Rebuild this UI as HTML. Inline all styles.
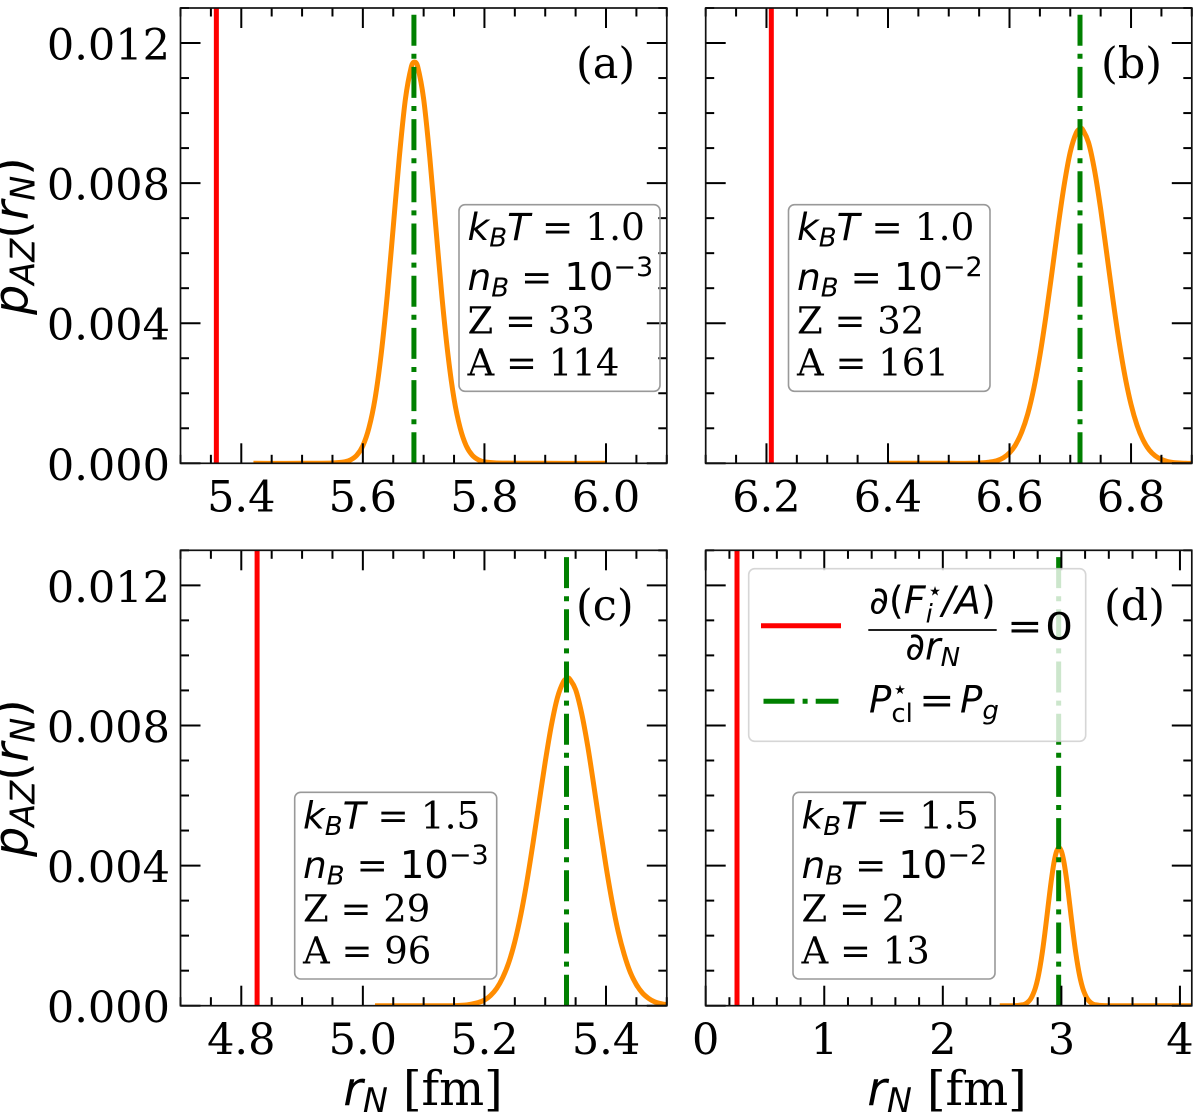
<!DOCTYPE html>
<html lang="en">
<head>
<meta charset="utf-8">
<title>Probability distributions of cluster radius</title>
<style>
html,body{margin:0;padding:0;background:#fff;}
svg{display:block;}
text{fill:#000;}
.s{font-family:"DejaVu Serif","Liberation Serif",serif;}
.m{font-family:"DejaVu Sans","Liberation Sans",sans-serif;font-style:italic;}
.u{font-family:"DejaVu Sans","Liberation Sans",sans-serif;font-style:normal;}
.box{fill:none;stroke:#999;stroke-width:1.6;}
</style>
</head>
<body>
<svg id="fig" xmlns="http://www.w3.org/2000/svg" width="1200" height="1119" viewBox="0 0 1200 1119">
<rect width="1200" height="1119" fill="#fff"/>
<g id="panels"></g>

<!-- axis titles -->
<g transform="translate(27.5,236) rotate(-90)">
<text class="m" font-size="47.5" text-anchor="middle">p<tspan font-size="33.5" dy="7">AZ</tspan><tspan class="u" dy="-7">(</tspan>r<tspan font-size="33.5" dy="7">N</tspan><tspan class="u" dy="-7">)</tspan></text>
</g>
<g transform="translate(27.5,778) rotate(-90)">
<text class="m" font-size="47.5" text-anchor="middle">p<tspan font-size="33.5" dy="7">AZ</tspan><tspan class="u" dy="-7">(</tspan>r<tspan font-size="33.5" dy="7">N</tspan><tspan class="u" dy="-7">)</tspan></text>
</g>
<text class="s" font-size="47.5" x="423" y="1105" text-anchor="middle"><tspan class="m">r</tspan><tspan class="m" font-size="33.5" dy="7">N</tspan><tspan dy="-7"> [fm]</tspan></text>
<text class="s" font-size="47.5" x="947" y="1105" text-anchor="middle"><tspan class="m">r</tspan><tspan class="m" font-size="33.5" dy="7">N</tspan><tspan dy="-7"> [fm]</tspan></text>

<!-- panel letters -->
<text class="s" font-size="43" x="576" y="78">(a)</text>
<text class="s" font-size="43" x="1101" y="78">(b)</text>
<text class="s" font-size="43" x="576" y="620">(c)</text>
<text class="s" font-size="43" x="1104" y="620">(d)</text>

<!-- info boxes -->
<g>
<rect class="box" x="459" y="204.7" width="201" height="186.6" rx="6"/>
<text class="s" font-size="37.5" x="467.5" y="240"><tspan class="m">k</tspan><tspan class="m" font-size="26" dy="6.5">B</tspan><tspan class="m" dy="-6.5">T</tspan> = 1.0</text>
<text class="s" font-size="37.5" x="467.5" y="290"><tspan class="m">n</tspan><tspan class="m" font-size="26" dy="6.5">B</tspan><tspan dy="-6.5"> = </tspan><tspan class="u" font-size="38.5">10</tspan><tspan class="u" font-size="27" dy="-14">−3</tspan></text>
<text class="s" font-size="37" x="467.5" y="333.5">Z = 33</text>
<text class="s" font-size="37" x="467.5" y="375.7">A = 114</text>
</g>
<g>
<rect class="box" x="788.5" y="204.7" width="201.5" height="186.6" rx="6"/>
<text class="s" font-size="37.5" x="797" y="240"><tspan class="m">k</tspan><tspan class="m" font-size="26" dy="6.5">B</tspan><tspan class="m" dy="-6.5">T</tspan> = 1.0</text>
<text class="s" font-size="37.5" x="797" y="290"><tspan class="m">n</tspan><tspan class="m" font-size="26" dy="6.5">B</tspan><tspan dy="-6.5"> = </tspan><tspan class="u" font-size="38.5">10</tspan><tspan class="u" font-size="27" dy="-14">−2</tspan></text>
<text class="s" font-size="37" x="797" y="333.5">Z = 32</text>
<text class="s" font-size="37" x="797" y="375.7">A = 161</text>
</g>
<g>
<rect class="box" x="294.7" y="792.3" width="202" height="186.7" rx="6"/>
<text class="s" font-size="37.5" x="303" y="828.5"><tspan class="m">k</tspan><tspan class="m" font-size="26" dy="6.5">B</tspan><tspan class="m" dy="-6.5">T</tspan> = 1.5</text>
<text class="s" font-size="37.5" x="303" y="878"><tspan class="m">n</tspan><tspan class="m" font-size="26" dy="6.5">B</tspan><tspan dy="-6.5"> = </tspan><tspan class="u" font-size="38.5">10</tspan><tspan class="u" font-size="27" dy="-14">−3</tspan></text>
<text class="s" font-size="37" x="303" y="921.5">Z = 29</text>
<text class="s" font-size="37" x="303" y="963.3">A = 96</text>
</g>
<g>
<rect class="box" x="793" y="792.3" width="202" height="186.7" rx="6"/>
<text class="s" font-size="37.5" x="801.5" y="828.5"><tspan class="m">k</tspan><tspan class="m" font-size="26" dy="6.5">B</tspan><tspan class="m" dy="-6.5">T</tspan> = 1.5</text>
<text class="s" font-size="37.5" x="801.5" y="878"><tspan class="m">n</tspan><tspan class="m" font-size="26" dy="6.5">B</tspan><tspan dy="-6.5"> = </tspan><tspan class="u" font-size="38.5">10</tspan><tspan class="u" font-size="27" dy="-14">−2</tspan></text>
<text class="s" font-size="37" x="801.5" y="921.5">Z = 2</text>
<text class="s" font-size="37" x="801.5" y="963.3">A = 13</text>
</g>

<!-- legend -->
<g>
<rect x="748.7" y="568.7" width="337" height="172.6" rx="6" fill="#fff" fill-opacity="0.8" stroke="#ccc" stroke-opacity="0.8" stroke-width="1.6"/>
<line x1="761" x2="841" y1="625.7" y2="625.7" stroke="#ff0000" stroke-width="5"/>
<line x1="763.5" x2="838.5" y1="701.3" y2="701.3" stroke="#008000" stroke-width="5" stroke-dasharray="31 8.1 5 8.1"/>
<g>
<text class="m" font-size="38" x="932.5" y="613.3" text-anchor="middle"><tspan class="u">∂(</tspan>F<tspan font-size="26" dy="9">i</tspan><tspan class="u" font-size="26" dy="-23" dx="-6">⋆</tspan><tspan dy="14" dx="-1">/A</tspan><tspan class="u">)</tspan></text>
<line x1="868.3" x2="996.7" y1="630" y2="630" stroke="#000" stroke-width="1.7"/>
<text class="m" font-size="38" x="932.7" y="659.3" text-anchor="middle"><tspan class="u">∂</tspan>r<tspan font-size="26" dy="6.5">N</tspan></text>
<text class="u" font-size="37" transform="translate(1007,639) scale(1.15,1)">=</text>
<text class="u" font-size="37" transform="translate(1045,639.3) scale(1.2,1)">0</text>
</g>
<g>
<text class="m" font-size="37" x="869" y="712.7">P<tspan class="u" font-size="26" dy="9.5">cl</tspan><tspan class="u" font-size="26" dy="-24" dx="-21">⋆</tspan></text>
<text class="u" font-size="37" transform="translate(919,713) scale(1.15,1)">=</text>
<text class="m" font-size="37" x="960" y="712.7">P<tspan font-size="26" dy="6.5">g</tspan></text>
</g>
</g>
</svg>
<script>
// Panel (a) data
const rA = [5.42,5.50,5.55,5.57,5.58,5.59,5.60,5.61,5.62,5.63,5.64,5.65,5.66,5.67,5.68,5.685,5.69,5.70,5.71,5.72,5.73,5.74,5.75,5.76,5.77,5.78,5.79,5.80,5.82,5.90,6.00];
const pA = [0,0,0.00001,0.00004,0.0001,0.00023,0.0005,0.00101,0.00184,0.0031,0.00477,0.00675,0.00875,0.0104,0.01134,0.01146,0.01134,0.0104,0.00875,0.00675,0.00477,0.0031,0.00184,0.00101,0.0005,0.00023,0.0001,0.00004,0.00001,0,0];
const xTickLabelsA = ["5.4","5.6","5.8","6.0"];
const redLineA = [5.359];
const greenLineA = [5.684];
// Panel (b) data
const rB = [6.40,6.50,6.54,6.55,6.56,6.57,6.58,6.59,6.60,6.61,6.62,6.63,6.64,6.65,6.66,6.67,6.68,6.69,6.70,6.71,6.717,6.72,6.73,6.74,6.75,6.76,6.77,6.78,6.79,6.80,6.81,6.82,6.83,6.84,6.85,6.86,6.87,6.88,6.89,6.90];
const pB = [0,0,0,0.00001,0.00002,0.00004,0.00008,0.00016,0.0003,0.00053,0.00089,0.00141,0.00214,0.00308,0.00421,0.00547,0.00677,0.00795,0.00889,0.00944,0.00956,0.00954,0.00916,0.00836,0.00726,0.00599,0.0047,0.00351,0.00249,0.00168,0.00108,0.00066,0.00038,0.00021,0.00011,0.00005,0.00002,0.00001,0,0];
const xTickLabelsB = ["6.2","6.4","6.6","6.8"];
const redLineB = [6.208];
const greenLineB = [6.716];
// Panel (c) data
const rC = [5.02,5.10,5.15,5.16,5.17,5.18,5.19,5.20,5.21,5.22,5.23,5.24,5.25,5.26,5.27,5.28,5.29,5.30,5.31,5.32,5.33,5.337,5.34,5.35,5.36,5.37,5.38,5.39,5.40,5.41,5.42,5.43,5.44,5.45,5.46,5.47,5.48,5.49,5.50];
const pC = [0,0,0,0.00001,0.00002,0.00005,0.00009,0.00016,0.00029,0.00049,0.0008,0.00123,0.00183,0.00261,0.00356,0.00465,0.00581,0.00696,0.00799,0.00879,0.00925,0.00935,0.00933,0.00902,0.00834,0.0074,0.00628,0.00511,0.00398,0.00297,0.00212,0.00146,0.00095,0.0006,0.00036,0.00021,0.00011,0.00006,0.00003];
const xTickLabelsC = ["4.8","5.0","5.2","5.4"];
const redLineC = [4.826];
const greenLineC = [5.335];
// Panel (d) data
const rD = [2.48,2.60,2.64,2.66,2.68,2.70,2.72,2.74,2.76,2.78,2.80,2.82,2.84,2.86,2.88,2.90,2.92,2.94,2.96,2.98,3.00,3.02,3.04,3.06,3.08,3.10,3.12,3.14,3.16,3.18,3.20,3.22,3.24,3.26,3.28,3.30,3.32,3.40,3.70,4.10];
const pD = [0,0,0.00001,0.00002,0.00003,0.00006,0.00011,0.00019,0.00032,0.0005,0.00076,0.00111,0.00154,0.00205,0.00261,0.00318,0.0037,0.00413,0.00441,0.00451,0.00441,0.00413,0.0037,0.00318,0.00261,0.00205,0.00154,0.00111,0.00076,0.0005,0.00032,0.00019,0.00011,0.00006,0.00003,0.00002,0.00001,0,0,0];
const xTickLabelsD = ["0","1","2","3","4"];
const redLineD = [0.264];
const greenLineD = [2.977];
// Shared y axis
const yTickLabels = ["0.000","0.004","0.008","0.012"];

const NS = 'http://www.w3.org/2000/svg';
const root = document.getElementById('panels');
function mk(parent, tag, attrs, txt) {
  const el = document.createElementNS(NS, tag);
  for (const k in attrs) el.setAttribute(k, attrs[k]);
  if (txt !== undefined) el.textContent = txt;
  parent.appendChild(el);
  return el;
}
const Y_MAX = 0.013;
const Y_MINOR = 0.001;

// Smooth path through the data points (Catmull-Rom with non-uniform tangents)
function smoothPath(px, py) {
  const n = px.length;
  const m = [];
  for (let i = 0; i < n; i++) {
    const a = Math.max(i - 1, 0), b = Math.min(i + 1, n - 1);
    m.push((py[b] - py[a]) / (px[b] - px[a]));
  }
  let d = 'M' + px[0].toFixed(2) + ' ' + py[0].toFixed(2);
  for (let i = 0; i < n - 1; i++) {
    const h = (px[i + 1] - px[i]) / 3;
    d += 'C' + (px[i] + h).toFixed(2) + ' ' + (py[i] + m[i] * h).toFixed(2) + ' ' +
         (px[i + 1] - h).toFixed(2) + ' ' + (py[i + 1] - m[i + 1] * h).toFixed(2) + ' ' +
         px[i + 1].toFixed(2) + ' ' + py[i + 1].toFixed(2);
  }
  return d;
}

function drawPanel(id, box, xMin, xMax, xMinorStep, xLabels, curveX, curveY, redX, greenX, showY) {
  const L = box[0], R = box[1], T = box[2], B = box[3];
  const sx = v => L + (v - xMin) / (xMax - xMin) * (R - L);
  const sy = v => B - v / Y_MAX * (B - T);
  const g = mk(root, 'g', {});
  
  

  const clip = mk(g, 'clipPath', {id: 'clip-' + id});
  mk(clip, 'rect', {x: L, y: T, width: R - L, height: B - T});

  const curve = mk(g, 'path', {
    d: smoothPath(curveX.map(sx), curveY.map(sy)),
    fill: 'none', stroke: '#ff8c00', 'stroke-width': 5, 'stroke-linejoin': 'round', 'clip-path': 'url(#clip-' + id + ')'
  });
  
  

  const red = mk(g, 'line', {x1: sx(redX[0]), x2: sx(redX[0]), y1: B, y2: T, stroke: '#ff0000', 'stroke-width': 5, 'clip-path': 'url(#clip-' + id + ')'});
  
  

  const green = mk(g, 'line', {x1: sx(greenX[0]), x2: sx(greenX[0]), y1: B, y2: T, stroke: '#008000', 'stroke-width': 5, 'stroke-dasharray': '31 8.1 5 8.1', 'clip-path': 'url(#clip-' + id + ')'});
  
  

  // minor + major x ticks
  const xTickG = mk(g, 'g', {stroke: '#000', 'stroke-width': 2});
  
  
  const majors = xLabels.map(Number);
  const nMinor = Math.round((xMax - xMin) / xMinorStep);
  const first = Math.ceil(xMin / xMinorStep - 1e-6);
  for (let i = 0; i <= nMinor; i++) {
    const v = (first + i) * xMinorStep;
    if (v > xMax + 1e-6) break;
    const isMajor = majors.some(m => Math.abs(m - v) < 1e-6);
    const len = isMajor ? 20 : 8.5;
    mk(xTickG, 'line', {x1: sx(v), x2: sx(v), y1: B, y2: B - len});
    mk(xTickG, 'line', {x1: sx(v), x2: sx(v), y1: T, y2: T + len});
  }
  // y ticks
  const yTickG = mk(g, 'g', {stroke: '#000', 'stroke-width': 2});
  
  
  const yMajors = yTickLabels.map(Number);
  const nY = Math.round(Y_MAX / Y_MINOR);
  for (let i = 0; i <= nY; i++) {
    const v = i * Y_MINOR;
    const isMajor = yMajors.some(m => Math.abs(m - v) < 1e-7);
    const len = isMajor ? 20 : 8.5;
    mk(yTickG, 'line', {x1: L, x2: L + len, y1: sy(v), y2: sy(v)});
    mk(yTickG, 'line', {x1: R, x2: R - len, y1: sy(v), y2: sy(v)});
  }
  // spines
  const frame = mk(g, 'rect', {x: L, y: T, width: R - L, height: B - T, fill: 'none', stroke: '#111', 'stroke-width': 1.7});
  
  

  // tick labels
  xLabels.forEach(lbl => {
    const t = mk(g, 'text', {x: sx(Number(lbl)), y: B + 48.3, 'text-anchor': 'middle', 'font-size': 43, class: 's'}, lbl);
    
    
  });
  if (showY) {
    yTickLabels.forEach(lbl => {
      const t = mk(g, 'text', {x: L - 10.5, y: sy(Number(lbl)) + 16.5, 'text-anchor': 'end', 'font-size': 43, class: 's'}, lbl);
      
      
    });
  }
}

drawPanel('a', [180.5, 666.8, 8, 463.3], 5.3, 6.1, 0.05, xTickLabelsA, rA, pA, redLineA, greenLineA, true);
drawPanel('b', [705.7, 1191.8, 8, 463.3], 6.1, 6.9, 0.05, xTickLabelsB, rB, pB, redLineB, greenLineB, false);
drawPanel('c', [180.5, 666.8, 550.3, 1005.7], 4.7, 5.5, 0.05, xTickLabelsC, rC, pC, redLineC, greenLineC, true);
drawPanel('d', [705.7, 1191.8, 550.3, 1005.7], 0, 4.1, 0.2, xTickLabelsD, rD, pD, redLineD, greenLineD, false);
</script>
</body>
</html>
